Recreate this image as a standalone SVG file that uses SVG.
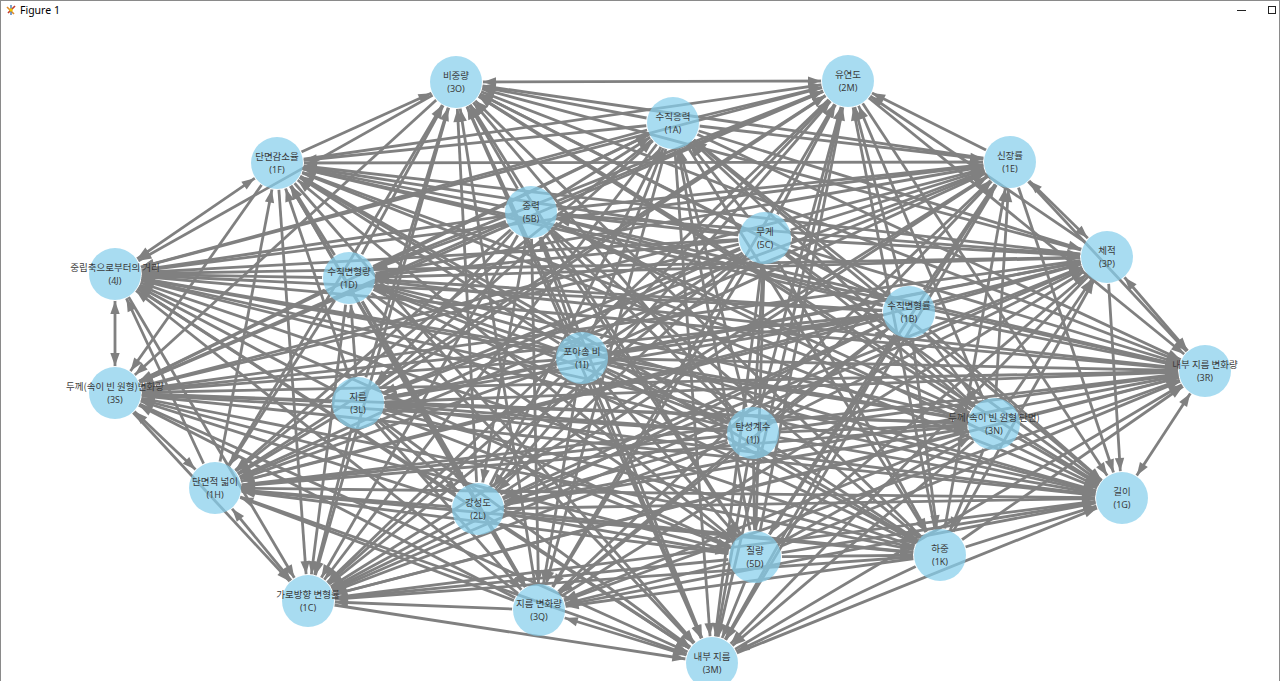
<svg xmlns="http://www.w3.org/2000/svg" width="1280" height="681" viewBox="0 0 1280 681">
<style>
.c line{stroke:#808080;stroke-width:2.8;marker-end:url(#ah)}
.c line.b{marker-start:url(#ah)}
.node circle{fill:#87ceeb;fill-opacity:.72}
.node text{font-family:"Noto Sans CJK KR","Noto Sans",sans-serif;font-size:9.5px;fill:#3a3a3a;text-anchor:middle}
.node text.k{font-family:"Noto Sans","Liberation Sans",sans-serif;font-size:9px}
.ui{font-family:"Noto Sans","Liberation Sans",sans-serif;font-size:10.5px;fill:#000}
</style>
<defs>
<marker id="ah" markerUnits="userSpaceOnUse" markerWidth="42" markerHeight="10" refX="41" refY="5" orient="auto-start-reverse" overflow="visible"><path d="M1,0.3 L14,5 L1,9.7 z" fill="#808080"/></marker>
<mask id="mA" maskUnits="userSpaceOnUse" x="0" y="0" width="1280" height="681"><rect width="1280" height="681" fill="#fff"/><circle cx="582" cy="358" r="27"/></mask>
<mask id="mB" maskUnits="userSpaceOnUse" x="0" y="0" width="1280" height="681"><rect width="1280" height="681" fill="#fff"/><circle cx="753" cy="433" r="27"/></mask>
<mask id="mC" maskUnits="userSpaceOnUse" x="0" y="0" width="1280" height="681"><rect width="1280" height="681" fill="#fff"/><circle cx="765" cy="238" r="27"/></mask>
<mask id="mD" maskUnits="userSpaceOnUse" x="0" y="0" width="1280" height="681"><rect width="1280" height="681" fill="#fff"/><circle cx="909" cy="312" r="27"/></mask>
<mask id="mE" maskUnits="userSpaceOnUse" x="0" y="0" width="1280" height="681"><rect width="1280" height="681" fill="#fff"/><circle cx="531" cy="212" r="27"/></mask>
<mask id="mF" maskUnits="userSpaceOnUse" x="0" y="0" width="1280" height="681"><rect width="1280" height="681" fill="#fff"/><circle cx="358" cy="403" r="27"/></mask>
<mask id="mG" maskUnits="userSpaceOnUse" x="0" y="0" width="1280" height="681"><rect width="1280" height="681" fill="#fff"/><circle cx="349" cy="278" r="27"/></mask>
<mask id="mH" maskUnits="userSpaceOnUse" x="0" y="0" width="1280" height="681"><rect width="1280" height="681" fill="#fff"/><circle cx="478" cy="509" r="27"/></mask>
<mask id="mI" maskUnits="userSpaceOnUse" x="0" y="0" width="1280" height="681"><rect width="1280" height="681" fill="#fff"/><circle cx="755" cy="557" r="27"/></mask>
<mask id="mJ" maskUnits="userSpaceOnUse" x="0" y="0" width="1280" height="681"><rect width="1280" height="681" fill="#fff"/><circle cx="994" cy="424" r="27"/></mask>
<mask id="mK" maskUnits="userSpaceOnUse" x="0" y="0" width="1280" height="681"><rect width="1280" height="681" fill="#fff"/><circle cx="673" cy="123" r="27"/></mask>
<mask id="mL" maskUnits="userSpaceOnUse" x="0" y="0" width="1280" height="681"><rect width="1280" height="681" fill="#fff"/><circle cx="940" cy="555" r="27"/></mask>
<mask id="mM" maskUnits="userSpaceOnUse" x="0" y="0" width="1280" height="681"><rect width="1280" height="681" fill="#fff"/><circle cx="539" cy="610" r="27"/></mask>
<mask id="mN" maskUnits="userSpaceOnUse" x="0" y="0" width="1280" height="681"><rect width="1280" height="681" fill="#fff"/><circle cx="215" cy="488" r="27"/></mask>
<mask id="mO" maskUnits="userSpaceOnUse" x="0" y="0" width="1280" height="681"><rect width="1280" height="681" fill="#fff"/><circle cx="1107" cy="257" r="27"/></mask>
<mask id="mP" maskUnits="userSpaceOnUse" x="0" y="0" width="1280" height="681"><rect width="1280" height="681" fill="#fff"/><circle cx="277" cy="163" r="27"/></mask>
<mask id="mQ" maskUnits="userSpaceOnUse" x="0" y="0" width="1280" height="681"><rect width="1280" height="681" fill="#fff"/><circle cx="1010" cy="162" r="27"/></mask>
<mask id="mR" maskUnits="userSpaceOnUse" x="0" y="0" width="1280" height="681"><rect width="1280" height="681" fill="#fff"/><circle cx="848" cy="81" r="27"/></mask>
<mask id="mS" maskUnits="userSpaceOnUse" x="0" y="0" width="1280" height="681"><rect width="1280" height="681" fill="#fff"/><circle cx="456" cy="82" r="27"/></mask>
<mask id="mT" maskUnits="userSpaceOnUse" x="0" y="0" width="1280" height="681"><rect width="1280" height="681" fill="#fff"/><circle cx="115" cy="274" r="27"/></mask>
<mask id="mU" maskUnits="userSpaceOnUse" x="0" y="0" width="1280" height="681"><rect width="1280" height="681" fill="#fff"/><circle cx="115" cy="393" r="27"/></mask>
<mask id="mV" maskUnits="userSpaceOnUse" x="0" y="0" width="1280" height="681"><rect width="1280" height="681" fill="#fff"/><circle cx="308" cy="601" r="27"/></mask>
<mask id="mW" maskUnits="userSpaceOnUse" x="0" y="0" width="1280" height="681"><rect width="1280" height="681" fill="#fff"/><circle cx="712" cy="663" r="27"/></mask>
<mask id="mX" maskUnits="userSpaceOnUse" x="0" y="0" width="1280" height="681"><rect width="1280" height="681" fill="#fff"/><circle cx="1122" cy="498" r="27"/></mask>
<mask id="mY" maskUnits="userSpaceOnUse" x="0" y="0" width="1280" height="681"><rect width="1280" height="681" fill="#fff"/><circle cx="1205" cy="371" r="27"/></mask>
</defs>
<rect width="1280" height="681" fill="#fff"/>
<g id="window">
<rect x="0.5" y="0.5" width="1279" height="700" fill="none" stroke="#8a8a8a"/>
<g transform="translate(11,10)">
<line x1="-4" y1="-3" x2="3" y2="4" stroke="#e08a2a" stroke-width="1.6"/>
<line x1="-3" y1="3" x2="4" y2="-4" stroke="#c0392b" stroke-width="1.6"/>
<line x1="0" y1="-5" x2="0" y2="5" stroke="#3a6fb0" stroke-width="1.3"/>
<circle cx="0" cy="0" r="1.8" fill="#f3c300"/>
</g>
<text class="ui" x="20" y="14">Figure 1</text>
<line x1="1237" y1="10.5" x2="1246" y2="10.5" stroke="#222" stroke-width="1"/>
<rect x="1268.5" y="6.5" width="7" height="7" fill="none" stroke="#222" stroke-width="1"/>
</g>
<g id="connectors" class="c">
<g mask="url(#mA)">
<line x1="582" y1="358" x2="753" y2="433" mask="url(#mB)"/>
<line x1="582" y1="358" x2="765" y2="238" mask="url(#mC)"/>
<line x1="582" y1="358" x2="909" y2="312" mask="url(#mD)"/>
<line x1="582" y1="358" x2="531" y2="212" mask="url(#mE)"/>
<line x1="582" y1="358" x2="358" y2="403" mask="url(#mF)"/>
<line x1="582" y1="358" x2="349" y2="278" mask="url(#mG)"/>
<line x1="582" y1="358" x2="478" y2="509" mask="url(#mH)"/>
<line x1="582" y1="358" x2="755" y2="557" mask="url(#mI)"/>
<line x1="582" y1="358" x2="994" y2="424" mask="url(#mJ)"/>
<line x1="582" y1="358" x2="673" y2="123" mask="url(#mK)"/>
<line x1="582" y1="358" x2="940" y2="555" mask="url(#mL)"/>
<line x1="582" y1="358" x2="539" y2="610" mask="url(#mM)"/>
<line x1="582" y1="358" x2="215" y2="488" mask="url(#mN)"/>
<line x1="582" y1="358" x2="1107" y2="257" mask="url(#mO)"/>
<line x1="582" y1="358" x2="277" y2="163" mask="url(#mP)"/>
<line x1="582" y1="358" x2="1010" y2="162" mask="url(#mQ)"/>
<line x1="582" y1="358" x2="848" y2="81" mask="url(#mR)"/>
<line x1="582" y1="358" x2="456" y2="82" mask="url(#mS)"/>
<line x1="582" y1="358" x2="115" y2="274" mask="url(#mT)"/>
<line x1="582" y1="358" x2="115" y2="393" mask="url(#mU)"/>
<line x1="582" y1="358" x2="308" y2="601" mask="url(#mV)"/>
<line x1="582" y1="358" x2="712" y2="663" mask="url(#mW)"/>
<line x1="582" y1="358" x2="1122" y2="498" mask="url(#mX)"/>
<line x1="582" y1="358" x2="1205" y2="371" mask="url(#mY)"/>
</g>
<g mask="url(#mB)">
<line x1="753" y1="433" x2="765" y2="238" mask="url(#mC)"/>
<line x1="753" y1="433" x2="909" y2="312" mask="url(#mD)"/>
<line x1="753" y1="433" x2="531" y2="212" mask="url(#mE)"/>
<line x1="753" y1="433" x2="358" y2="403" mask="url(#mF)"/>
<line x1="753" y1="433" x2="349" y2="278" mask="url(#mG)"/>
<line x1="753" y1="433" x2="478" y2="509" mask="url(#mH)"/>
<line x1="753" y1="433" x2="755" y2="557" mask="url(#mI)"/>
<line x1="753" y1="433" x2="994" y2="424" mask="url(#mJ)"/>
<line x1="753" y1="433" x2="673" y2="123" mask="url(#mK)"/>
<line x1="753" y1="433" x2="940" y2="555" mask="url(#mL)"/>
<line x1="753" y1="433" x2="539" y2="610" mask="url(#mM)"/>
<line x1="753" y1="433" x2="215" y2="488" mask="url(#mN)"/>
<line x1="753" y1="433" x2="1107" y2="257" mask="url(#mO)"/>
<line x1="753" y1="433" x2="277" y2="163" mask="url(#mP)"/>
<line x1="753" y1="433" x2="1010" y2="162" mask="url(#mQ)"/>
<line x1="753" y1="433" x2="848" y2="81" mask="url(#mR)"/>
<line x1="753" y1="433" x2="456" y2="82" mask="url(#mS)"/>
<line x1="753" y1="433" x2="115" y2="274" mask="url(#mT)"/>
<line x1="753" y1="433" x2="115" y2="393" mask="url(#mU)"/>
<line x1="753" y1="433" x2="308" y2="601" mask="url(#mV)"/>
<line x1="753" y1="433" x2="712" y2="663" mask="url(#mW)"/>
<line x1="753" y1="433" x2="1122" y2="498" mask="url(#mX)"/>
<line x1="753" y1="433" x2="1205" y2="371" mask="url(#mY)"/>
</g>
<g mask="url(#mC)">
<line x1="765" y1="238" x2="909" y2="312" mask="url(#mD)"/>
<line x1="765" y1="238" x2="531" y2="212" mask="url(#mE)"/>
<line x1="765" y1="238" x2="358" y2="403" mask="url(#mF)"/>
<line x1="765" y1="238" x2="349" y2="278" mask="url(#mG)"/>
<line x1="765" y1="238" x2="478" y2="509" mask="url(#mH)"/>
<line x1="765" y1="238" x2="755" y2="557" mask="url(#mI)"/>
<line x1="765" y1="238" x2="994" y2="424" mask="url(#mJ)"/>
<line x1="765" y1="238" x2="673" y2="123" mask="url(#mK)"/>
<line x1="765" y1="238" x2="940" y2="555" mask="url(#mL)"/>
<line x1="765" y1="238" x2="539" y2="610" mask="url(#mM)"/>
<line x1="765" y1="238" x2="215" y2="488" mask="url(#mN)"/>
<line x1="765" y1="238" x2="1107" y2="257" mask="url(#mO)"/>
<line x1="765" y1="238" x2="277" y2="163" mask="url(#mP)"/>
<line x1="765" y1="238" x2="1010" y2="162" mask="url(#mQ)"/>
<line x1="765" y1="238" x2="848" y2="81" mask="url(#mR)"/>
<line x1="765" y1="238" x2="456" y2="82" mask="url(#mS)"/>
<line x1="765" y1="238" x2="115" y2="274" mask="url(#mT)"/>
<line x1="765" y1="238" x2="115" y2="393" mask="url(#mU)"/>
<line x1="765" y1="238" x2="308" y2="601" mask="url(#mV)"/>
<line x1="765" y1="238" x2="712" y2="663" mask="url(#mW)"/>
<line x1="765" y1="238" x2="1122" y2="498" mask="url(#mX)"/>
<line x1="765" y1="238" x2="1205" y2="371" mask="url(#mY)"/>
</g>
<g mask="url(#mD)">
<line x1="909" y1="312" x2="531" y2="212" mask="url(#mE)"/>
<line x1="909" y1="312" x2="358" y2="403" mask="url(#mF)"/>
<line x1="909" y1="312" x2="349" y2="278" mask="url(#mG)"/>
<line x1="909" y1="312" x2="478" y2="509" mask="url(#mH)"/>
<line x1="909" y1="312" x2="755" y2="557" mask="url(#mI)"/>
<line x1="909" y1="312" x2="994" y2="424" mask="url(#mJ)"/>
<line x1="909" y1="312" x2="673" y2="123" mask="url(#mK)"/>
<line x1="909" y1="312" x2="940" y2="555" mask="url(#mL)"/>
<line x1="909" y1="312" x2="539" y2="610" mask="url(#mM)"/>
<line x1="909" y1="312" x2="215" y2="488" mask="url(#mN)"/>
<line x1="909" y1="312" x2="1107" y2="257" mask="url(#mO)"/>
<line x1="909" y1="312" x2="277" y2="163" mask="url(#mP)"/>
<line x1="909" y1="312" x2="1010" y2="162" mask="url(#mQ)"/>
<line x1="909" y1="312" x2="848" y2="81" mask="url(#mR)"/>
<line x1="909" y1="312" x2="456" y2="82" mask="url(#mS)"/>
<line x1="909" y1="312" x2="115" y2="274" mask="url(#mT)"/>
<line x1="909" y1="312" x2="115" y2="393" mask="url(#mU)"/>
<line x1="909" y1="312" x2="308" y2="601" mask="url(#mV)"/>
<line x1="909" y1="312" x2="712" y2="663" mask="url(#mW)"/>
<line x1="909" y1="312" x2="1122" y2="498" mask="url(#mX)"/>
<line x1="909" y1="312" x2="1205" y2="371" mask="url(#mY)"/>
</g>
<g mask="url(#mE)">
<line x1="531" y1="212" x2="358" y2="403" mask="url(#mF)"/>
<line x1="531" y1="212" x2="349" y2="278" mask="url(#mG)"/>
<line x1="531" y1="212" x2="478" y2="509" mask="url(#mH)"/>
<line x1="531" y1="212" x2="755" y2="557" mask="url(#mI)"/>
<line x1="531" y1="212" x2="994" y2="424" mask="url(#mJ)"/>
<line x1="531" y1="212" x2="673" y2="123" mask="url(#mK)"/>
<line x1="531" y1="212" x2="940" y2="555" mask="url(#mL)"/>
<line x1="531" y1="212" x2="539" y2="610" mask="url(#mM)"/>
<line x1="531" y1="212" x2="215" y2="488" mask="url(#mN)"/>
<line x1="531" y1="212" x2="1107" y2="257" mask="url(#mO)"/>
<line x1="531" y1="212" x2="277" y2="163" mask="url(#mP)"/>
<line x1="531" y1="212" x2="1010" y2="162" mask="url(#mQ)"/>
<line x1="531" y1="212" x2="848" y2="81" mask="url(#mR)"/>
<line x1="531" y1="212" x2="456" y2="82" mask="url(#mS)"/>
<line x1="531" y1="212" x2="115" y2="274" mask="url(#mT)"/>
<line x1="531" y1="212" x2="115" y2="393" mask="url(#mU)"/>
<line x1="531" y1="212" x2="308" y2="601" mask="url(#mV)"/>
<line x1="531" y1="212" x2="712" y2="663" mask="url(#mW)"/>
<line x1="531" y1="212" x2="1122" y2="498" mask="url(#mX)"/>
<line x1="531" y1="212" x2="1205" y2="371" mask="url(#mY)"/>
</g>
<g mask="url(#mF)">
<line x1="358" y1="403" x2="349" y2="278" mask="url(#mG)"/>
<line x1="358" y1="403" x2="478" y2="509" mask="url(#mH)"/>
<line x1="358" y1="403" x2="755" y2="557" mask="url(#mI)"/>
<line x1="358" y1="403" x2="994" y2="424" mask="url(#mJ)"/>
<line x1="358" y1="403" x2="673" y2="123" mask="url(#mK)"/>
<line x1="358" y1="403" x2="940" y2="555" mask="url(#mL)"/>
<line x1="358" y1="403" x2="539" y2="610" mask="url(#mM)"/>
<line x1="358" y1="403" x2="215" y2="488" mask="url(#mN)"/>
<line x1="358" y1="403" x2="1107" y2="257" mask="url(#mO)"/>
<line x1="358" y1="403" x2="277" y2="163" mask="url(#mP)"/>
<line x1="358" y1="403" x2="1010" y2="162" mask="url(#mQ)"/>
<line x1="358" y1="403" x2="848" y2="81" mask="url(#mR)"/>
<line x1="358" y1="403" x2="456" y2="82" mask="url(#mS)"/>
<line x1="358" y1="403" x2="115" y2="274" mask="url(#mT)"/>
<line x1="358" y1="403" x2="115" y2="393" mask="url(#mU)"/>
<line x1="358" y1="403" x2="308" y2="601" mask="url(#mV)"/>
<line x1="358" y1="403" x2="712" y2="663" mask="url(#mW)"/>
<line x1="358" y1="403" x2="1122" y2="498" mask="url(#mX)"/>
<line x1="358" y1="403" x2="1205" y2="371" mask="url(#mY)"/>
</g>
<g mask="url(#mG)">
<line x1="349" y1="278" x2="478" y2="509" mask="url(#mH)"/>
<line x1="349" y1="278" x2="755" y2="557" mask="url(#mI)"/>
<line x1="349" y1="278" x2="994" y2="424" mask="url(#mJ)"/>
<line x1="349" y1="278" x2="673" y2="123" mask="url(#mK)"/>
<line x1="349" y1="278" x2="940" y2="555" mask="url(#mL)"/>
<line x1="349" y1="278" x2="539" y2="610" mask="url(#mM)"/>
<line x1="349" y1="278" x2="215" y2="488" mask="url(#mN)"/>
<line x1="349" y1="278" x2="1107" y2="257" mask="url(#mO)"/>
<line x1="349" y1="278" x2="277" y2="163" mask="url(#mP)"/>
<line x1="349" y1="278" x2="1010" y2="162" mask="url(#mQ)"/>
<line x1="349" y1="278" x2="848" y2="81" mask="url(#mR)"/>
<line x1="349" y1="278" x2="456" y2="82" mask="url(#mS)"/>
<line x1="349" y1="278" x2="115" y2="274" mask="url(#mT)"/>
<line x1="349" y1="278" x2="115" y2="393" mask="url(#mU)"/>
<line x1="349" y1="278" x2="308" y2="601" mask="url(#mV)"/>
<line x1="349" y1="278" x2="712" y2="663" mask="url(#mW)"/>
<line x1="349" y1="278" x2="1122" y2="498" mask="url(#mX)"/>
<line x1="349" y1="278" x2="1205" y2="371" mask="url(#mY)"/>
</g>
<g mask="url(#mH)">
<line x1="478" y1="509" x2="755" y2="557" mask="url(#mI)"/>
<line x1="478" y1="509" x2="994" y2="424" mask="url(#mJ)"/>
<line x1="478" y1="509" x2="673" y2="123" mask="url(#mK)"/>
<line x1="478" y1="509" x2="940" y2="555" mask="url(#mL)"/>
<line x1="478" y1="509" x2="539" y2="610" mask="url(#mM)"/>
<line x1="478" y1="509" x2="215" y2="488" mask="url(#mN)"/>
<line x1="478" y1="509" x2="1107" y2="257" mask="url(#mO)"/>
<line x1="478" y1="509" x2="277" y2="163" mask="url(#mP)"/>
<line x1="478" y1="509" x2="1010" y2="162" mask="url(#mQ)"/>
<line x1="478" y1="509" x2="848" y2="81" mask="url(#mR)"/>
<line x1="478" y1="509" x2="456" y2="82" mask="url(#mS)"/>
<line x1="478" y1="509" x2="115" y2="274" mask="url(#mT)"/>
<line x1="478" y1="509" x2="115" y2="393" mask="url(#mU)"/>
<line x1="478" y1="509" x2="308" y2="601" mask="url(#mV)"/>
<line x1="478" y1="509" x2="712" y2="663" mask="url(#mW)"/>
<line x1="478" y1="509" x2="1122" y2="498" mask="url(#mX)"/>
<line x1="478" y1="509" x2="1205" y2="371" mask="url(#mY)"/>
</g>
<g mask="url(#mI)">
<line x1="755" y1="557" x2="994" y2="424" mask="url(#mJ)"/>
<line x1="755" y1="557" x2="673" y2="123" mask="url(#mK)"/>
<line x1="755" y1="557" x2="940" y2="555" mask="url(#mL)"/>
<line x1="755" y1="557" x2="539" y2="610" mask="url(#mM)"/>
<line x1="755" y1="557" x2="215" y2="488" mask="url(#mN)"/>
<line x1="755" y1="557" x2="1107" y2="257" mask="url(#mO)"/>
<line x1="755" y1="557" x2="277" y2="163" mask="url(#mP)"/>
<line x1="755" y1="557" x2="1010" y2="162" mask="url(#mQ)"/>
<line x1="755" y1="557" x2="848" y2="81" mask="url(#mR)"/>
<line x1="755" y1="557" x2="456" y2="82" mask="url(#mS)"/>
<line x1="755" y1="557" x2="115" y2="274" mask="url(#mT)"/>
<line x1="755" y1="557" x2="115" y2="393" mask="url(#mU)"/>
<line x1="755" y1="557" x2="308" y2="601" mask="url(#mV)"/>
<line x1="755" y1="557" x2="712" y2="663" mask="url(#mW)"/>
<line x1="755" y1="557" x2="1122" y2="498" mask="url(#mX)"/>
<line x1="755" y1="557" x2="1205" y2="371" mask="url(#mY)"/>
</g>
<g mask="url(#mJ)">
<line x1="994" y1="424" x2="673" y2="123" mask="url(#mK)"/>
<line x1="994" y1="424" x2="940" y2="555" mask="url(#mL)"/>
<line x1="994" y1="424" x2="539" y2="610" mask="url(#mM)"/>
<line x1="994" y1="424" x2="215" y2="488" mask="url(#mN)"/>
<line x1="994" y1="424" x2="1107" y2="257" mask="url(#mO)"/>
<line x1="994" y1="424" x2="277" y2="163" mask="url(#mP)"/>
<line x1="994" y1="424" x2="1010" y2="162" mask="url(#mQ)"/>
<line x1="994" y1="424" x2="848" y2="81" mask="url(#mR)"/>
<line x1="994" y1="424" x2="456" y2="82" mask="url(#mS)"/>
<line x1="994" y1="424" x2="115" y2="274" mask="url(#mT)"/>
<line x1="994" y1="424" x2="115" y2="393" mask="url(#mU)"/>
<line x1="994" y1="424" x2="308" y2="601" mask="url(#mV)"/>
<line x1="994" y1="424" x2="712" y2="663" mask="url(#mW)"/>
<line x1="994" y1="424" x2="1122" y2="498" mask="url(#mX)"/>
<line x1="994" y1="424" x2="1205" y2="371" mask="url(#mY)"/>
</g>
<g mask="url(#mK)">
<line x1="673" y1="123" x2="940" y2="555" mask="url(#mL)"/>
<line x1="673" y1="123" x2="539" y2="610" mask="url(#mM)"/>
<line x1="673" y1="123" x2="215" y2="488" mask="url(#mN)"/>
<line x1="673" y1="123" x2="1107" y2="257" mask="url(#mO)"/>
<line x1="673" y1="123" x2="277" y2="163" mask="url(#mP)"/>
<line x1="673" y1="123" x2="1010" y2="162" mask="url(#mQ)"/>
<line x1="673" y1="123" x2="848" y2="81" mask="url(#mR)"/>
<line x1="673" y1="123" x2="456" y2="82" mask="url(#mS)"/>
<line x1="673" y1="123" x2="115" y2="274" mask="url(#mT)"/>
<line x1="673" y1="123" x2="115" y2="393" mask="url(#mU)"/>
<line x1="673" y1="123" x2="308" y2="601" mask="url(#mV)"/>
<line x1="673" y1="123" x2="712" y2="663" mask="url(#mW)"/>
<line x1="673" y1="123" x2="1122" y2="498" mask="url(#mX)"/>
<line x1="673" y1="123" x2="1205" y2="371" mask="url(#mY)"/>
</g>
<g mask="url(#mL)">
<line x1="940" y1="555" x2="539" y2="610" mask="url(#mM)"/>
<line x1="940" y1="555" x2="215" y2="488" mask="url(#mN)"/>
<line x1="940" y1="555" x2="1107" y2="257" mask="url(#mO)"/>
<line x1="940" y1="555" x2="277" y2="163" mask="url(#mP)"/>
<line x1="940" y1="555" x2="1010" y2="162" mask="url(#mQ)"/>
<line x1="940" y1="555" x2="848" y2="81" mask="url(#mR)"/>
<line x1="940" y1="555" x2="456" y2="82" mask="url(#mS)"/>
<line x1="940" y1="555" x2="115" y2="274" mask="url(#mT)"/>
<line x1="940" y1="555" x2="115" y2="393" mask="url(#mU)"/>
<line x1="940" y1="555" x2="308" y2="601" mask="url(#mV)"/>
<line x1="940" y1="555" x2="712" y2="663" mask="url(#mW)"/>
<line x1="940" y1="555" x2="1122" y2="498" mask="url(#mX)"/>
<line x1="940" y1="555" x2="1205" y2="371" mask="url(#mY)"/>
</g>
<g mask="url(#mM)">
<line x1="539" y1="610" x2="215" y2="488" mask="url(#mN)"/>
<line x1="539" y1="610" x2="1107" y2="257" mask="url(#mO)"/>
<line x1="539" y1="610" x2="277" y2="163" mask="url(#mP)"/>
<line x1="539" y1="610" x2="1010" y2="162" mask="url(#mQ)"/>
<line x1="539" y1="610" x2="848" y2="81" mask="url(#mR)"/>
<line x1="539" y1="610" x2="456" y2="82" mask="url(#mS)"/>
<line x1="539" y1="610" x2="115" y2="274" mask="url(#mT)"/>
<line x1="539" y1="610" x2="115" y2="393" mask="url(#mU)"/>
<line x1="539" y1="610" x2="308" y2="601" mask="url(#mV)"/>
<line class="b" x1="539" y1="610" x2="712" y2="663" mask="url(#mW)"/>
<line x1="539" y1="610" x2="1122" y2="498" mask="url(#mX)"/>
<line x1="539" y1="610" x2="1205" y2="371" mask="url(#mY)"/>
</g>
<g mask="url(#mN)">
<line x1="215" y1="488" x2="1107" y2="257" mask="url(#mO)"/>
<line x1="215" y1="488" x2="277" y2="163" mask="url(#mP)"/>
<line x1="215" y1="488" x2="1010" y2="162" mask="url(#mQ)"/>
<line x1="215" y1="488" x2="848" y2="81" mask="url(#mR)"/>
<line x1="215" y1="488" x2="456" y2="82" mask="url(#mS)"/>
<line x1="215" y1="488" x2="115" y2="274" mask="url(#mT)"/>
<line class="b" x1="215" y1="488" x2="115" y2="393" mask="url(#mU)"/>
<line class="b" x1="215" y1="488" x2="308" y2="601" mask="url(#mV)"/>
<line x1="215" y1="488" x2="712" y2="663" mask="url(#mW)"/>
<line x1="215" y1="488" x2="1122" y2="498" mask="url(#mX)"/>
<line x1="215" y1="488" x2="1205" y2="371" mask="url(#mY)"/>
</g>
<g mask="url(#mO)">
<line x1="1107" y1="257" x2="277" y2="163" mask="url(#mP)"/>
<line class="b" x1="1107" y1="257" x2="1010" y2="162" mask="url(#mQ)"/>
<line x1="1107" y1="257" x2="848" y2="81" mask="url(#mR)"/>
<line x1="1107" y1="257" x2="456" y2="82" mask="url(#mS)"/>
<line x1="1107" y1="257" x2="115" y2="274" mask="url(#mT)"/>
<line x1="1107" y1="257" x2="115" y2="393" mask="url(#mU)"/>
<line x1="1107" y1="257" x2="308" y2="601" mask="url(#mV)"/>
<line x1="1107" y1="257" x2="712" y2="663" mask="url(#mW)"/>
<line x1="1107" y1="257" x2="1122" y2="498" mask="url(#mX)"/>
<line class="b" x1="1107" y1="257" x2="1205" y2="371" mask="url(#mY)"/>
</g>
<g mask="url(#mP)">
<line x1="277" y1="163" x2="1010" y2="162" mask="url(#mQ)"/>
<line x1="277" y1="163" x2="848" y2="81" mask="url(#mR)"/>
<line x1="277" y1="163" x2="456" y2="82" mask="url(#mS)"/>
<line class="b" x1="277" y1="163" x2="115" y2="274" mask="url(#mT)"/>
<line x1="277" y1="163" x2="115" y2="393" mask="url(#mU)"/>
<line x1="277" y1="163" x2="308" y2="601" mask="url(#mV)"/>
<line x1="277" y1="163" x2="712" y2="663" mask="url(#mW)"/>
<line x1="277" y1="163" x2="1122" y2="498" mask="url(#mX)"/>
<line x1="277" y1="163" x2="1205" y2="371" mask="url(#mY)"/>
</g>
<g mask="url(#mQ)">
<line x1="1010" y1="162" x2="848" y2="81" mask="url(#mR)"/>
<line x1="1010" y1="162" x2="456" y2="82" mask="url(#mS)"/>
<line x1="1010" y1="162" x2="115" y2="274" mask="url(#mT)"/>
<line x1="1010" y1="162" x2="115" y2="393" mask="url(#mU)"/>
<line x1="1010" y1="162" x2="308" y2="601" mask="url(#mV)"/>
<line x1="1010" y1="162" x2="712" y2="663" mask="url(#mW)"/>
<line x1="1010" y1="162" x2="1122" y2="498" mask="url(#mX)"/>
<line x1="1010" y1="162" x2="1205" y2="371" mask="url(#mY)"/>
</g>
<g mask="url(#mR)">
<line class="b" x1="848" y1="81" x2="456" y2="82" mask="url(#mS)"/>
<line x1="848" y1="81" x2="115" y2="274" mask="url(#mT)"/>
<line x1="848" y1="81" x2="115" y2="393" mask="url(#mU)"/>
<line x1="848" y1="81" x2="308" y2="601" mask="url(#mV)"/>
<line x1="848" y1="81" x2="712" y2="663" mask="url(#mW)"/>
<line x1="848" y1="81" x2="1122" y2="498" mask="url(#mX)"/>
<line x1="848" y1="81" x2="1205" y2="371" mask="url(#mY)"/>
</g>
<g mask="url(#mS)">
<line x1="456" y1="82" x2="115" y2="274" mask="url(#mT)"/>
<line x1="456" y1="82" x2="115" y2="393" mask="url(#mU)"/>
<line x1="456" y1="82" x2="308" y2="601" mask="url(#mV)"/>
<line x1="456" y1="82" x2="712" y2="663" mask="url(#mW)"/>
<line x1="456" y1="82" x2="1122" y2="498" mask="url(#mX)"/>
<line x1="456" y1="82" x2="1205" y2="371" mask="url(#mY)"/>
</g>
<g mask="url(#mT)">
<line class="b" x1="115" y1="274" x2="115" y2="393" mask="url(#mU)"/>
<line x1="115" y1="274" x2="308" y2="601" mask="url(#mV)"/>
<line x1="115" y1="274" x2="712" y2="663" mask="url(#mW)"/>
<line x1="115" y1="274" x2="1122" y2="498" mask="url(#mX)"/>
<line x1="115" y1="274" x2="1205" y2="371" mask="url(#mY)"/>
</g>
<g mask="url(#mU)">
<line x1="115" y1="393" x2="308" y2="601" mask="url(#mV)"/>
<line x1="115" y1="393" x2="712" y2="663" mask="url(#mW)"/>
<line x1="115" y1="393" x2="1122" y2="498" mask="url(#mX)"/>
<line x1="115" y1="393" x2="1205" y2="371" mask="url(#mY)"/>
</g>
<g mask="url(#mV)">
<line x1="308" y1="601" x2="712" y2="663" mask="url(#mW)"/>
<line x1="308" y1="601" x2="1122" y2="498" mask="url(#mX)"/>
<line x1="308" y1="601" x2="1205" y2="371" mask="url(#mY)"/>
</g>
<g mask="url(#mW)">
<line x1="712" y1="663" x2="1122" y2="498" mask="url(#mX)"/>
<line x1="712" y1="663" x2="1205" y2="371" mask="url(#mY)"/>
</g>
<g mask="url(#mX)">
<line class="b" x1="1122" y1="498" x2="1205" y2="371" mask="url(#mY)"/>
</g>
</g>
<g id="n1I" class="node"><circle cx="582" cy="358" r="26"/><text x="582" y="355">포아송 비</text><text class="k" x="582" y="368">(1I)</text></g>
<g id="n1J" class="node"><circle cx="753" cy="433" r="26"/><text x="753" y="430">탄성계수</text><text class="k" x="753" y="443">(1J)</text></g>
<g id="n5C" class="node"><circle cx="765" cy="238" r="26"/><text x="765" y="235">무게</text><text class="k" x="765" y="248">(5C)</text></g>
<g id="n1B" class="node"><circle cx="909" cy="312" r="26"/><text x="909" y="309">수직변형률</text><text class="k" x="909" y="322">(1B)</text></g>
<g id="n5B" class="node"><circle cx="531" cy="212" r="26"/><text x="531" y="209">중력</text><text class="k" x="531" y="222">(5B)</text></g>
<g id="n3L" class="node"><circle cx="358" cy="403" r="26"/><text x="358" y="400">지름</text><text class="k" x="358" y="413">(3L)</text></g>
<g id="n1D" class="node"><circle cx="349" cy="278" r="26"/><text x="349" y="275">수직변형량</text><text class="k" x="349" y="288">(1D)</text></g>
<g id="n2L" class="node"><circle cx="478" cy="509" r="26"/><text x="478" y="506">강성도</text><text class="k" x="478" y="519">(2L)</text></g>
<g id="n5D" class="node"><circle cx="755" cy="557" r="26"/><text x="755" y="554">질량</text><text class="k" x="755" y="567">(5D)</text></g>
<g id="n3N" class="node"><circle cx="994" cy="424" r="26"/><text x="994" y="421">두께(속이 빈 원형 단면)</text><text class="k" x="994" y="434">(3N)</text></g>
<g id="n1A" class="node"><circle cx="673" cy="123" r="26"/><text x="673" y="120">수직응력</text><text class="k" x="673" y="133">(1A)</text></g>
<g id="n1K" class="node"><circle cx="940" cy="555" r="26"/><text x="940" y="552">하중</text><text class="k" x="940" y="565">(1K)</text></g>
<g id="n3Q" class="node"><circle cx="539" cy="610" r="26"/><text x="539" y="607">지름 변화량</text><text class="k" x="539" y="620">(3Q)</text></g>
<g id="n1H" class="node"><circle cx="215" cy="488" r="26"/><text x="215" y="485">단면적 넓이</text><text class="k" x="215" y="498">(1H)</text></g>
<g id="n3P" class="node"><circle cx="1107" cy="257" r="26"/><text x="1107" y="254">체적</text><text class="k" x="1107" y="267">(3P)</text></g>
<g id="n1F" class="node"><circle cx="277" cy="163" r="26"/><text x="277" y="160">단면감소율</text><text class="k" x="277" y="173">(1F)</text></g>
<g id="n1E" class="node"><circle cx="1010" cy="162" r="26"/><text x="1010" y="159">신장률</text><text class="k" x="1010" y="172">(1E)</text></g>
<g id="n2M" class="node"><circle cx="848" cy="81" r="26"/><text x="848" y="78">유연도</text><text class="k" x="848" y="91">(2M)</text></g>
<g id="n3O" class="node"><circle cx="456" cy="82" r="26"/><text x="456" y="79">비중량</text><text class="k" x="456" y="92">(3O)</text></g>
<g id="n4J" class="node"><circle cx="115" cy="274" r="26"/><text x="115" y="271">중립축으로부터의 거리</text><text class="k" x="115" y="284">(4J)</text></g>
<g id="n3S" class="node"><circle cx="115" cy="393" r="26"/><text x="115" y="390">두께(속이 빈 원형)변화량</text><text class="k" x="115" y="403">(3S)</text></g>
<g id="n1C" class="node"><circle cx="308" cy="601" r="26"/><text x="308" y="598">가로방향 변형률</text><text class="k" x="308" y="611">(1C)</text></g>
<g id="n3M" class="node"><circle cx="712" cy="663" r="26"/><text x="712" y="660">내부 지름</text><text class="k" x="712" y="673">(3M)</text></g>
<g id="n1G" class="node"><circle cx="1122" cy="498" r="26"/><text x="1122" y="495">길이</text><text class="k" x="1122" y="508">(1G)</text></g>
<g id="n3R" class="node"><circle cx="1205" cy="371" r="26"/><text x="1205" y="368">내부 지름 변화량</text><text class="k" x="1205" y="381">(3R)</text></g>
</svg>
